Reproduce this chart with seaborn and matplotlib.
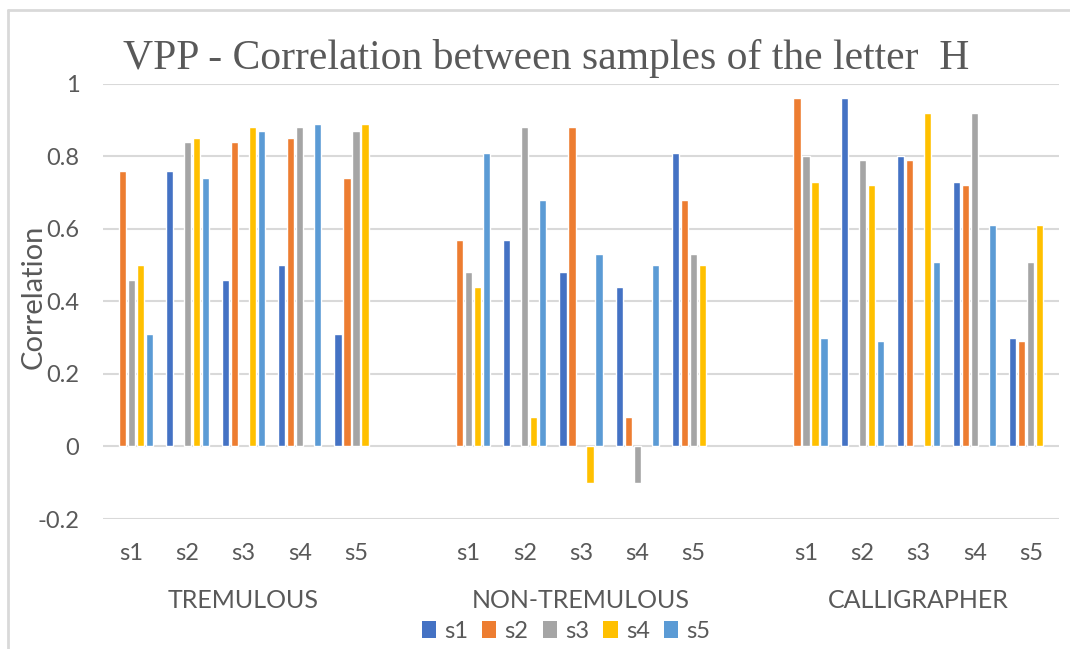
import numpy as np
import pandas as pd
import matplotlib
matplotlib.use("Agg")
import matplotlib.pyplot as plt
import matplotlib.transforms as mtransforms
from matplotlib.patches import Patch
from matplotlib.lines import Line2D
import seaborn as sns

# ---------------- data ----------------
groups = ["TREMULOUS", "NON-TREMULOUS", "CALLIGRAPHER"]
samples = ["s1", "s2", "s3", "s4", "s5"]
series = ["s1", "s2", "s3", "s4", "s5"]
nan = np.nan

# rows = series (legend), columns = sample categories s1..s5
tremulous = [
    [nan, 0.76, 0.46, 0.50, 0.31],
    [0.76, nan, 0.84, 0.85, 0.74],
    [0.46, 0.84, nan, 0.88, 0.87],
    [0.50, 0.85, 0.88, nan, 0.89],
    [0.31, 0.74, 0.87, 0.89, nan],
]
non_tremulous = [
    [nan, 0.57, 0.48, 0.44, 0.81],
    [0.57, nan, 0.88, 0.08, 0.68],
    [0.48, 0.88, nan, -0.10, 0.53],
    [0.44, 0.08, -0.10, nan, 0.50],
    [0.81, 0.68, 0.53, 0.50, nan],
]
calligrapher = [
    [nan, 0.96, 0.80, 0.73, 0.30],
    [0.96, nan, 0.79, 0.72, 0.29],
    [0.80, 0.79, nan, 0.92, 0.51],
    [0.73, 0.72, 0.92, nan, 0.61],
    [0.30, 0.29, 0.51, 0.61, nan],
]
y_ticks = [-0.2, 0, 0.2, 0.4, 0.6, 0.8, 1]
y_tick_labels = ["-0.2", "0", "0.2", "0.4", "0.6", "0.8", "1"]

colors = ["#4472C4", "#ED7D31", "#A5A5A5", "#FFC000", "#5B9BD5"]
text_color = "#595959"
grid_color = "#D9D9D9"

# ---------------- build long table ----------------
tables = [tremulous, non_tremulous, calligrapher]
rows = []
order = []
for gi, (g, tab) in enumerate(zip(groups, tables)):
    for ci, s in enumerate(samples):
        key = f"{g}|{s}"
        order.append(key)
        for si, ser in enumerate(series):
            rows.append({"cat": key, "series": ser, "value": tab[si][ci]})
    if gi < len(groups) - 1:
        order.append(f"gap{gi}")
df = pd.DataFrame(rows).dropna()

# ---------------- figure ----------------
sns.set_theme(style="white")
plt.rcParams["font.family"] = ["Lato", "DejaVu Sans"]

fig = plt.figure(figsize=(10.70, 6.49), dpi=100)
ax = fig.add_axes([103 / 1070, 1 - 519 / 649, (1059 - 103) / 1070, (519 - 84) / 649])

sns.barplot(data=df, x="cat", y="value", hue="series", order=order,
            hue_order=series, palette=colors, errorbar=None, width=0.8,
            gap=0.2, saturation=1, legend=False, ax=ax, zorder=3)

ax.set_xlim(-0.5, len(order) - 0.5)
ax.set_ylim(-0.2, 1.0)
ax.set_yticks(y_ticks)
ax.set_yticklabels(y_tick_labels)
ax.yaxis.grid(True, color=grid_color, lw=1.5, zorder=0)
ax.set_axisbelow(True)
for sp in ax.spines.values():
    sp.set_visible(False)

tick_pos = [i for i, k in enumerate(order) if not k.startswith("gap")]
ax.set_xticks(tick_pos)
ax.set_xticklabels([order[i].split("|")[1] for i in tick_pos])
ax.tick_params(axis="x", length=0, pad=17, labelsize=17, labelcolor=text_color)
ax.tick_params(axis="y", length=0, pad=17, labelsize=17, labelcolor=text_color)
ax.set_xlabel("")
ax.set_ylabel("Correlation", fontsize=21, color=text_color)
ax.yaxis.set_label_coords(-0.059, 0.51)

# group labels
trans = mtransforms.blended_transform_factory(ax.transData, fig.transFigure)
for gi, g in enumerate(groups):
    idx = [i for i, k in enumerate(order) if k.startswith(g + "|")]
    xc = np.mean(idx)
    ax.text(xc, 1 - 600 / 649, g, transform=trans, ha="center", va="center",
            fontsize=18, color=text_color)

# title
fig.text(546 / 1070, 1 - 58 / 649, "VPP - Correlation between samples of the letter  H",
         ha="center", va="center", fontsize=30, color=text_color,
         family=["Liberation Serif", "DejaVu Serif"])

# legend
handles = [Patch(facecolor=c, edgecolor="none") for c in colors]
fig.legend(handles, series, loc="center", bbox_to_anchor=(566 / 1070, 1 - 631 / 649),
           ncol=5, frameon=False, fontsize=17, handlelength=0.6, handleheight=0.75,
           handletextpad=0.35, columnspacing=0.6, labelcolor=text_color)

# chart-area border (left and top edges)
fig.add_artist(Line2D([8 / 1070, 8 / 1070], [0, 1 - 10 / 649], transform=fig.transFigure,
                      color=grid_color, lw=2))
fig.add_artist(Line2D([8 / 1070, 1], [1 - 10 / 649, 1 - 10 / 649], transform=fig.transFigure,
                      color=grid_color, lw=2))

fig.savefig("out.png", dpi=100, facecolor="white")
